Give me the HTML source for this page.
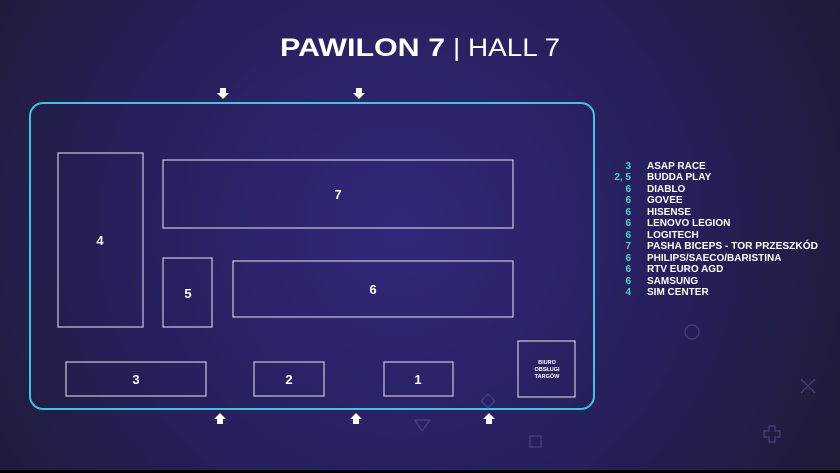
<!DOCTYPE html>
<html><head><meta charset="utf-8"><style>
html,body{margin:0;padding:0;width:840px;height:473px;overflow:hidden;background:#1f1b3f}
text{font-family:"Liberation Sans",sans-serif;fill:#fff;font-weight:bold}
</style></head><body>
<svg width="840" height="473" viewBox="0 0 840 473" xmlns="http://www.w3.org/2000/svg">
<defs>
<radialGradient id="bg" cx="400" cy="230" r="520" gradientUnits="userSpaceOnUse">
<stop offset="0" stop-color="#30297a"/><stop offset="0.55" stop-color="#261f5a"/><stop offset="1" stop-color="#1f1b33"/>
</radialGradient>
<g id="ad"><polygon points="-3,-5 3,-5 3,0 6,0 0,6 -6,0 -3,0" fill="#fff"/></g>
<g id="au"><polygon points="-3,5 3,5 3,0 6,0 0,-6 -6,0 -3,0" fill="#fff"/></g>
</defs>
<rect width="840" height="470" fill="url(#bg)"/>
<rect y="470" width="840" height="3" fill="#000"/>
<text x="280" y="56" font-size="25" textLength="165" lengthAdjust="spacingAndGlyphs">PAWILON 7</text>
<text x="453" y="56" font-size="25" style="font-weight:normal" textLength="107" lengthAdjust="spacingAndGlyphs">| HALL 7</text>
<rect x="30" y="103" width="564" height="306" rx="13" fill="none" stroke="#3fc6dd" stroke-width="2"/>
<g fill="none" stroke="#c9c5de" stroke-width="1.2">
<rect x="58" y="153" width="85" height="174"/>
<rect x="163" y="160" width="350" height="68"/>
<rect x="163" y="258" width="49" height="69"/>
<rect x="233" y="261" width="280" height="56"/>
<rect x="66" y="362" width="140" height="34"/>
<rect x="254" y="362" width="70" height="34"/>
<rect x="384" y="362" width="69" height="34"/>
<rect x="518" y="341" width="57" height="56"/>
</g>
<g font-size="13" text-anchor="middle">
<text x="100" y="245">4</text><text x="338" y="199">7</text><text x="188" y="298">5</text>
<text x="373" y="294">6</text><text x="136" y="384">3</text><text x="289" y="384">2</text><text x="418" y="384">1</text>
</g>
<g font-size="5.5" text-anchor="middle"><text x="547" y="364">BIURO</text><text x="547" y="371">OBSŁUGI</text><text x="547" y="378">TARGÓW</text></g>
<use href="#ad" x="223" y="93"/><use href="#ad" x="359" y="93"/>
<use href="#au" x="220" y="419"/><use href="#au" x="356" y="419"/><use href="#au" x="489" y="419"/>
<g fill="none" stroke="#4a4380" stroke-width="1.2">
<circle cx="692" cy="332" r="7"/>
<path d="M415 420 L430 420 L422 431 Z"/>
<path d="M488 394 L495 401 L488 408 L481 401 Z"/>
<rect x="530" y="436" width="11" height="11"/>
<path d="M801 379 L815 393 M815 379 L801 393"/>
<path d="M769 426 h6 v5 h5 v6 h-5 v5 h-6 v-5 h-5 v-6 h5 Z"/>
</g>
<g font-size="10">
<g text-anchor="end">
<text x="631" y="169" style="fill:#4fd1c5">3</text><text x="631" y="180" style="fill:#4fd1c5">2, 5</text>
<text x="631" y="192" style="fill:#4fd1c5">6</text><text x="631" y="203" style="fill:#4fd1c5">6</text>
<text x="631" y="215" style="fill:#4fd1c5">6</text><text x="631" y="226" style="fill:#4fd1c5">6</text>
<text x="631" y="238" style="fill:#4fd1c5">6</text><text x="631" y="249" style="fill:#4fd1c5">7</text>
<text x="631" y="261" style="fill:#4fd1c5">6</text><text x="631" y="272" style="fill:#4fd1c5">6</text>
<text x="631" y="284" style="fill:#4fd1c5">6</text><text x="631" y="295" style="fill:#4fd1c5">4</text>
</g>
<text x="647" y="169">ASAP RACE</text><text x="647" y="180">BUDDA PLAY</text>
<text x="647" y="192">DIABLO</text><text x="647" y="203">GOVEE</text>
<text x="647" y="215">HISENSE</text><text x="647" y="226">LENOVO LEGION</text>
<text x="647" y="238">LOGITECH</text><text x="647" y="249" textLength="171" lengthAdjust="spacingAndGlyphs">PASHA BICEPS - TOR PRZESZKÓD</text>
<text x="647" y="261">PHILIPS/SAECO/BARISTINA</text><text x="647" y="272">RTV EURO AGD</text>
<text x="647" y="284">SAMSUNG</text><text x="647" y="295">SIM CENTER</text>
</g>
</svg>
</body></html>
